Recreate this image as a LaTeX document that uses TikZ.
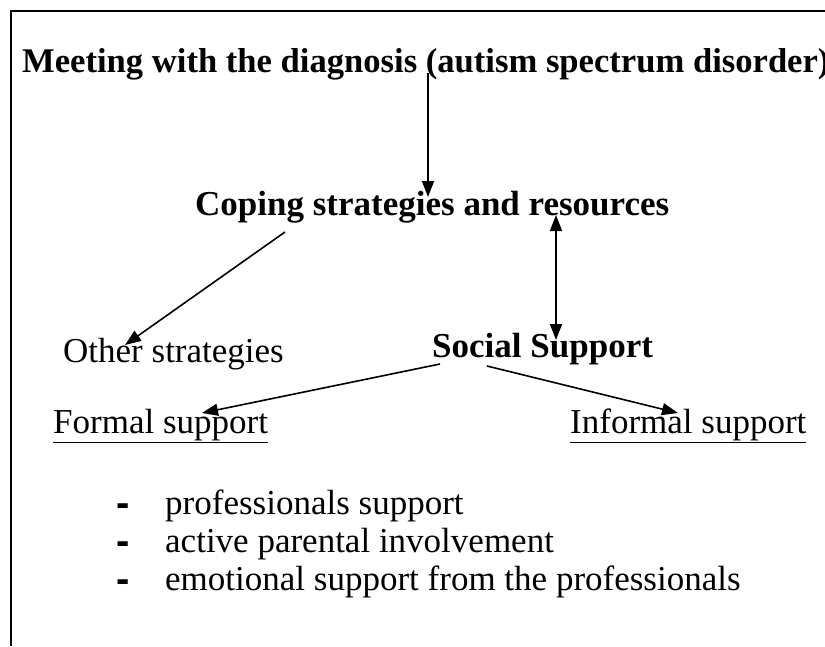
\documentclass[tikz,border=0pt]{standalone}
\usepackage{fontspec}
\setmainfont{Liberation Serif}
\newfontfamily\dashfont{Liberation Sans}
\usetikzlibrary{arrows.meta}
\begin{document}
\begin{tikzpicture}[x=1pt,y=-1pt,
  txt/.style={inner sep=0pt,anchor=base west,font=\fontsize{35}{40}\selectfont},
  btxt/.style={txt,font=\fontsize{35}{40}\selectfont\bfseries},
  dashmark/.style={inner sep=0pt,anchor=base west,font=\fontsize{40}{44}\dashfont\bfseries},
  conn/.style={line width=1.6pt,-{Triangle[length=16pt,width=12pt]}},
  biconn/.style={line width=1.6pt,{Triangle[length=16pt,width=12pt]}-{Triangle[length=16pt,width=12pt]}},
  frame/.style={line width=2pt}]
\useasboundingbox (0,0) rectangle (825,646);
% open frame: top and left edges
\coordinate (fl) at (11,646);
\coordinate (fc) at (11,11);
\coordinate (fr) at (825,11);
\draw[frame] (fl) -- (fc) -- (fr);

\node[btxt,font=\fontsize{34.6}{40}\selectfont\bfseries] (diag) at (22,72) {Meeting with the diagnosis (autism spectrum disorder)};
\node[btxt] (cope) at (195,215) {Coping strategies and resources};
\node[txt] (other) at (63,362) {Other strategies};
\node[btxt] (social) at (432,357) {Social Support};
\node[txt] (formal) at (53,433) {\underline{Formal support}};
\node[txt] (informal) at (570,433) {\underline{Informal support}};

\node[dashmark] (d1) at (116,516) {-};
\node[txt] (l1) at (165,514) {professionals support};
\node[dashmark] (d2) at (116,554) {-};
\node[txt] (l2) at (165,552) {active parental involvement};
\node[dashmark] (d3) at (116,592) {-};
\node[txt] (l3) at (165,590) {emotional support from the professionals};

% connectors
\coordinate (a1s) at (428,73);
\coordinate (a1e) at (428,197);
\draw[conn] (a1s) -- (a1e);
\coordinate (a2s) at (556,215);
\coordinate (a2e) at (556,340);
\draw[biconn] (a2s) -- (a2e);
\coordinate (a3s) at (285,232);
\coordinate (a3e) at (125,345);
\draw[conn] (a3s) -- (a3e);
\coordinate (a4s) at (440,364);
\coordinate (a4e) at (202,413);
\draw[conn] (a4s) -- (a4e);
\coordinate (a5s) at (487,366);
\coordinate (a5e) at (678,413);
\draw[conn] (a5s) -- (a5e);
\end{tikzpicture}
\end{document}
